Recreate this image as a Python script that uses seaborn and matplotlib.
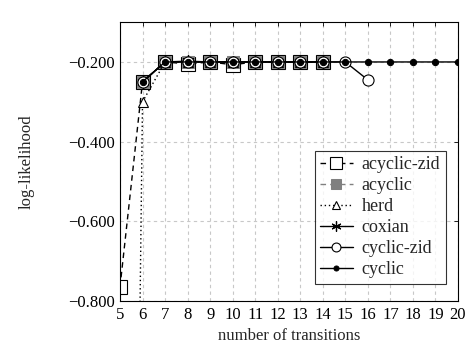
import numpy as np
import pandas as pd
import matplotlib
matplotlib.use("Agg")
import matplotlib.pyplot as plt
import seaborn as sns
from matplotlib.ticker import FuncFormatter

sns.set_theme(style="white")
plt.rcParams['font.family'] = ['Liberation Serif', 'DejaVu Serif']
plt.rcParams['mathtext.fontset'] = 'cm'

# data
x_acyclic_zid = [5, 6, 7, 8, 9, 10, 11, 12, 13, 14]
y_acyclic_zid = [-0.765, -0.25, -0.2, -0.205, -0.2, -0.207, -0.2, -0.2, -0.2, -0.2]
x_acyclic = [6, 7, 8, 9, 10, 11, 12, 13, 14]
y_acyclic = [-0.25, -0.2, -0.2, -0.2, -0.2, -0.2, -0.2, -0.2, -0.2]
x_herd = [5, 6, 7, 8, 9, 10, 11, 12, 13, 14]
y_herd = [-4.9, -0.30, -0.2, -0.2, -0.2, -0.2, -0.2, -0.2, -0.2, -0.2]
x_coxian = [6, 7, 8, 9, 10, 11, 12, 13, 14]
y_coxian = [-0.25, -0.2, -0.198, -0.2, -0.2, -0.2, -0.2, -0.2, -0.2]
x_cyclic_zid = [6, 7, 8, 9, 10, 11, 12, 13, 14, 15, 16]
y_cyclic_zid = [-0.25, -0.2, -0.2, -0.2, -0.2, -0.2, -0.2, -0.2, -0.2, -0.2, -0.245]
x_cyclic = [6, 7, 8, 9, 10, 11, 12, 13, 14, 15, 16, 17, 18, 19, 20]
y_cyclic = [-0.25, -0.2, -0.2, -0.2, -0.2, -0.2, -0.2, -0.2, -0.2, -0.2, -0.2, -0.2, -0.2, -0.2, -0.2]

x_ticks = list(range(5, 21))
y_ticks = [-0.8, -0.6, -0.4, -0.2]

fig = plt.figure(figsize=(4.68, 3.51), dpi=100)
ax = fig.add_axes([0.2564, 0.1425, 0.7222, 0.7945])

series = [
    ("acyclic-zid", x_acyclic_zid, y_acyclic_zid, dict(color="black", linestyle=(0, (4, 3)), marker="s",
                                                       markersize=10, markerfacecolor="white", markeredgecolor="black", markeredgewidth=0.8)),
    ("acyclic", x_acyclic, y_acyclic, dict(color="#808080", linestyle=(0, (4, 3)), marker="s",
                                           markersize=9, markerfacecolor="#808080", markeredgecolor="#808080")),
    ("herd", x_herd, y_herd, dict(color="black", linestyle=(0, (1, 2)), marker="^",
                                  markersize=7, markerfacecolor="white", markeredgecolor="black", markeredgewidth=0.8)),
    ("coxian", x_coxian, y_coxian, dict(color="black", linestyle="-", marker=(6, 2, 0),
                                        markersize=9, markeredgecolor="black", markeredgewidth=0.9)),
    ("cyclic-zid", x_cyclic_zid, y_cyclic_zid, dict(color="black", linestyle="-", marker="o",
                                                    markersize=8, markerfacecolor="white", markeredgecolor="black", markeredgewidth=0.8)),
    ("cyclic", x_cyclic, y_cyclic, dict(color="black", linestyle="-", marker="o",
                                        markersize=4.5, markerfacecolor="black", markeredgecolor="black")),
]

for name, xs, ys, st in series:
    df = pd.DataFrame({"x": xs, "y": ys})
    sns.lineplot(data=df, x="x", y="y", ax=ax, label=name, linewidth=1.0, **st)

ax.set_xlim(5, 20)
ax.set_ylim(-0.8, -0.1)
ax.set_xticks(x_ticks)
ax.set_yticks(y_ticks)
ax.yaxis.set_major_formatter(FuncFormatter(lambda v, p: ("\u2212%.3f" % abs(v)) if v < 0 else "%.3f" % v))
ax.grid(True, color="#c8c8c8", linestyle=(0, (3, 3)), linewidth=0.8)
ax.set_axisbelow(True)
ax.tick_params(direction="in", length=3, width=0.6, top=True, right=True, labelsize=12, colors="black", pad=4)
for s in ax.spines.values():
    s.set_color("black")
    s.set_linewidth(0.8)
ax.set_xlabel("number of transitions", fontsize=12)
ax.set_ylabel("log-likelihood", fontsize=12, labelpad=24)

leg = ax.legend(loc="lower right", bbox_to_anchor=(0.99, 0.03), fontsize=13, frameon=True, fancybox=False,
                edgecolor="black", handlelength=1.8, borderpad=0.3, labelspacing=0.22, handletextpad=0.5,
                markerscale=0.8)
leg.get_frame().set_linewidth(0.8)

fig.savefig("out.png", dpi=100)
